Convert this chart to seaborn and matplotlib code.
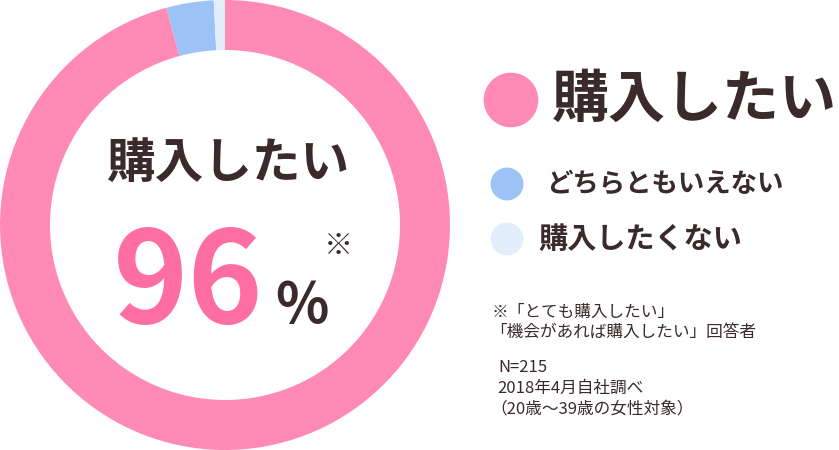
import matplotlib
matplotlib.use("Agg")
import matplotlib.pyplot as plt
import seaborn as sns

# 回答の内訳（%）
labels = ["購入したい", "どちらともいえない", "購入したくない"]
shares = [95.8, 3.4, 0.8]
colors = ["#FF8AB6", "#9DC2F6", "#E3EEFC"]

headline_label = "購入したい"
headline_value = "96"
notes = [
    "※「とても購入したい」",
    "「機会があれば購入したい」回答者",
    "N=215",
    "2018年4月自社調べ",
    "（20歳～39歳の女性対象）",
]

sns.set_theme(style="white")
plt.rcParams["font.family"] = ["Noto Sans CJK JP", "DejaVu Sans"]
ink = "#3A2A2C"

fig = plt.figure(figsize=(8.39, 4.5), dpi=100)

# ドーナツ
ax = fig.add_axes([0, 0, 450 / 839, 1])
ax.pie(shares, colors=colors, startangle=90, counterclock=False, radius=1,
       wedgeprops=dict(width=50 / 225, linewidth=0))
ax.set_xlim(-1, 1)
ax.set_ylim(-1, 1)
ax.set_aspect("equal")
ax.axis("off")

# テキスト用（ピクセル座標）
tx = fig.add_axes([0, 0, 1, 1])

# 凡例の丸
dot_x = [511, 507, 507]
dot_y = [100, 184, 239]
dot_size = [1550, 560, 560]
sns.scatterplot(x=dot_x, y=dot_y, s=dot_size, hue=labels, palette=colors,
                legend=False, linewidth=0, ax=tx)
tx.set_xlim(0, 839)
tx.set_ylim(450, 0)
tx.axis("off")

tx.text(228, 163, headline_label, fontsize=35, fontweight="bold", color=ink,
        ha="center", va="center")
tx.text(188, 286, headline_value, fontsize=92, fontweight="bold", color="#FF6EA3",
        ha="center", va="center")
tx.text(302, 306, "%", fontsize=40, fontweight="bold", color=ink,
        ha="center", va="center")
tx.text(338, 246, "※", fontsize=21, fontweight="bold", color=ink,
        ha="center", va="center")

tx.text(552, 100, labels[0], fontsize=41, fontweight="bold", color=ink, va="center")
tx.text(546, 184, labels[1], fontsize=19, fontweight="bold", color=ink, va="center")
tx.text(538, 239, labels[2], fontsize=21, fontweight="bold", color=ink, va="center")

# 注記
note_x = [492, 490, 498, 497, 490]
note_y = [312, 332, 367, 388, 409]
for x, y, line in zip(note_x, note_y, notes):
    tx.text(x, y, line, fontsize=12, color=ink, va="center")

fig.savefig("out.png", dpi=100)
